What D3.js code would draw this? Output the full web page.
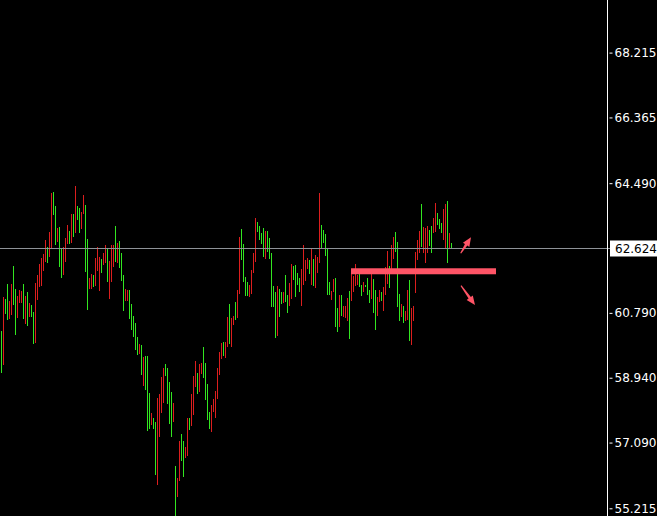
<!DOCTYPE html>
<html>
<head>
<meta charset="utf-8">
<script src="https://cdn.jsdelivr.net/npm/d3@7"></script>
<style>
html,body{margin:0;padding:0;background:#000;overflow:hidden;}
svg{display:block;}
</style>
</head>
<body>
<svg id="chart" width="657" height="516"></svg>
<script>
// ---- data ----
const highs = [
60.273,61.243,61.186,61.614,61.129,61.614,62.128,61.471,61.272,61.443,
61.414,61.614,61.272,61.386,61.072,61.015,60.815,61.643,61.871,62.185,
62.356,62.470,62.870,62.670,63.098,64.211,64.239,63.840,63.212,63.241,
62.613,62.670,62.926,63.298,63.126,63.611,63.611,64.410,63.840,63.783,
63.668,64.153,63.868,62.898,61.785,61.899,61.871,62.356,62.670,62.385,
62.327,62.499,62.727,62.641,62.270,62.727,62.727,63.269,62.784,62.841,
62.499,61.871,61.471,61.443,61.443,61.043,60.701,60.502,60.102,59.902,
59.874,59.531,59.560,59.560,58.504,57.934,57.791,57.677,58.362,58.476,
58.961,59.218,59.332,59.218,58.818,58.533,58.219,56.422,56.079,57.135,
57.334,57.135,56.964,57.791,57.791,58.476,58.990,59.417,59.075,59.332,
59.360,59.817,59.360,58.761,57.962,58.162,58.333,58.561,59.218,59.674,
59.931,59.959,59.959,60.673,61.043,60.644,60.701,61.101,61.443,62.955,
63.183,62.755,61.814,61.671,61.586,62.014,62.499,63.497,63.383,63.269,
63.069,63.212,63.126,63.126,62.926,62.499,61.557,61.386,61.557,61.471,
61.386,61.386,61.871,61.300,61.643,62.185,62.128,62.156,61.928,61.785,
62.042,62.727,62.299,62.356,62.299,62.641,62.327,62.442,62.385,64.211,
63.298,63.155,63.041,62.613,61.671,61.414,61.757,61.785,60.929,61.300,
61.300,60.986,60.986,61.215,61.414,61.985,61.842,62.185,61.871,61.899,
61.586,61.671,61.586,61.785,61.443,61.899,61.757,61.443,61.243,61.443,
61.386,61.529,62.099,62.556,62.128,62.727,62.955,63.098,62.812,61.329,
61.043,60.986,60.844,61.443,61.728,60.929,60.986,62.527,62.870,63.126,
63.897,63.241,63.212,63.269,63.155,63.269,63.497,63.925,63.640,63.469,
63.355,63.754,63.897,63.982,63.069,62.784
];
const lows = [
59.075,59.303,60.758,60.587,60.616,60.730,61.015,60.159,60.644,61.072,
61.072,60.616,60.473,60.416,60.673,60.673,59.902,59.931,61.158,61.529,
61.557,61.985,62.242,62.213,62.385,62.613,63.583,62.727,62.812,62.099,
61.785,61.871,62.242,62.755,62.755,62.784,62.955,63.069,63.440,63.069,
63.183,63.611,61.957,60.872,61.471,61.471,61.529,61.557,61.985,61.414,
61.928,62.156,62.213,61.671,61.186,61.671,62.099,62.242,62.213,62.071,
61.700,60.844,61.129,61.129,60.616,60.302,60.102,59.731,59.589,59.617,
59.018,58.704,58.590,57.420,57.477,57.591,57.477,56.165,55.879,57.249,
57.934,58.219,58.990,58.190,57.620,57.249,57.677,54.995,55.537,55.993,
56.564,56.108,56.650,56.707,57.449,57.563,57.877,58.675,58.476,58.533,
59.047,58.933,58.305,57.734,57.477,57.392,57.962,57.791,58.333,59.018,
59.474,59.560,59.503,59.817,59.902,59.817,60.444,60.587,60.644,61.329,
62.299,61.671,61.272,61.272,61.243,61.329,61.928,62.242,63.098,62.870,
62.755,62.385,62.327,62.527,62.327,60.958,60.958,60.073,60.131,60.673,
61.043,61.072,61.101,60.787,60.986,61.186,61.728,61.243,61.586,61.386,
60.986,61.586,61.700,62.042,61.899,61.586,61.557,61.500,61.928,62.213,
62.641,62.784,62.413,61.300,61.300,61.158,61.386,60.387,60.245,60.387,
60.701,60.673,60.644,60.559,60.045,61.129,61.386,61.557,61.586,61.529,
61.272,61.386,61.529,61.300,61.072,61.186,60.787,60.302,60.701,61.101,
61.129,60.844,61.300,61.614,61.500,62.042,62.327,62.527,60.958,60.559,
60.673,60.502,60.559,60.587,59.988,59.874,60.559,61.357,62.299,62.499,
62.670,62.499,62.213,62.499,62.698,62.499,63.069,63.098,63.298,63.183,
63.069,62.870,62.641,62.213,62.613,62.613
];
const up = [
1,0,1,1,0,0,1,1,0,0, 0,1,0,1,0,1,1,0,0,0, 0,0,0,1,0,0,1,1,0,1,
1,0,0,0,1,0,1,0,1,1, 0,0,1,1,0,0,1,0,0,0, 1,0,0,1,0,0,0,1,0,1,
1,1,0,0,1,1,1,1,1,0, 1,0,1,1,1,0,1,1,0,0, 0,0,1,1,1,1,0,1,0,0,
1,1,0,0,1,0,0,0,1,0, 0,1,1,1,1,0,0,0,0,0, 0,1,0,0,1,0,0,1,0,0,
1,1,1,1,0,0,0,0,1,1, 1,1,0,1,1,1,1,1,0,1, 1,0,1,1,0,0,1,1,1,1,
0,0,0,0,1,0,1,0,0,0, 1,1,1,1,1,0,0,1,1,0, 1,0,0,0,1,0,0,0,0,1,
1,0,1,1,1,0,1,1,0,0, 1,0,0,0,1,0,0,1,1,1, 0,1,0,0,1,0,0,0,0,0,
1,0,0,0,1,1,0,0,1,1, 1,0,0,1,0,1
];
const tickPrices = [68.215, 66.365, 64.490, 60.790, 58.940, 57.090, 55.215];
const currentPrice = 62.624;
const levelPrice = 61.977;          // thick red level line
const levelFromBar = 176, levelToBar = 248;
const arrowUp = [[230.85, 62.490], [236.0, 62.947]];
const arrowDown = [[231.0, 61.566], [238.0, 61.015]];

// ---- layout ----
const W = 657, H = 516, plotRight = 607;
const svg = d3.select("#chart");
svg.append("rect").attr("width", W).attr("height", H).attr("fill", "#000");

const x = d3.scaleLinear().domain([0.5, 304]).range([0, plotRight]);
const y = d3.scaleLinear().domain([55.215, 68.215]).range([508.3, 52.6]);

const bars = highs.map((h, i) => ({i: i + 1, h, l: lows[i], up: up[i]}));

const plot = svg.append("g");
plot.selectAll("rect.bar").data(bars).enter().append("rect")
  .attr("class", "bar")
  .attr("shape-rendering", "crispEdges")
  .attr("x", d => Math.round(x(d.i)))
  .attr("width", 1)
  .attr("y", d => Math.round(y(d.h)))
  .attr("height", d => Math.max(1, Math.round(y(d.l)) - Math.round(y(d.h))))
  .attr("fill", d => d.up ? "#32e620" : "#dc1e1e");

// current price line
const cy = Math.round(y(currentPrice)) + 0.5 - 1;
svg.append("line")
  .attr("x1", 0).attr("x2", 611).attr("y1", cy).attr("y2", cy)
  .attr("stroke", "#8e9298").attr("stroke-width", 1)
  .attr("shape-rendering", "crispEdges");

// level band
const ly = y(levelPrice);
svg.append("rect")
  .attr("x", x(levelFromBar)).attr("width", x(levelToBar) - x(levelFromBar) + 1)
  .attr("y", ly - 3).attr("height", 6)
  .attr("fill", "#ff5466");

// arrows
function drawArrow(pts) {
  const [p0, p1] = pts.map(p => [x(p[0]), y(p[1])]);
  const dx = p1[0] - p0[0], dy = p1[1] - p0[1];
  const len = Math.hypot(dx, dy), ux = dx / len, uy = dy / len;
  const nx = -uy, ny = ux;
  const headL = 9, headW = 3.8, shaftW = 1.4;
  const bx = p1[0] - ux * headL, by = p1[1] - uy * headL;
  const path = d3.path();
  path.moveTo(p0[0] + nx * shaftW * 0.4, p0[1] + ny * shaftW * 0.4);
  path.lineTo(bx + nx * shaftW, by + ny * shaftW);
  path.lineTo(bx + nx * headW, by + ny * headW);
  path.lineTo(p1[0], p1[1]);
  path.lineTo(bx - nx * headW, by - ny * headW);
  path.lineTo(bx - nx * shaftW, by - ny * shaftW);
  path.lineTo(p0[0] - nx * shaftW * 0.4, p0[1] - ny * shaftW * 0.4);
  path.closePath();
  svg.append("path").attr("d", path.toString()).attr("fill", "#ff5466");
}
drawArrow(arrowUp);
drawArrow(arrowDown);

// right price axis
const axis = d3.axisRight(y).tickValues(tickPrices).tickSize(3).tickPadding(4)
  .tickFormat(d3.format(".3f"));
const ag = svg.append("g").attr("transform", `translate(${plotRight + 1.5},0)`).call(axis);
ag.select(".domain").remove();
ag.selectAll(".tick line").attr("stroke", "#fff").attr("x1", 1).attr("x2", 4);
ag.selectAll(".tick text").attr("fill", "#fff").attr("x", 6)
  .attr("font-family", "DejaVu Sans, Tahoma, sans-serif").attr("font-size", 12);
svg.append("line").attr("x1", plotRight + 0.5).attr("x2", plotRight + 0.5)
  .attr("y1", 0).attr("y2", H).attr("stroke", "#fff").attr("stroke-width", 1)
  .attr("shape-rendering", "crispEdges");

// current price label
svg.append("rect").attr("x", 610).attr("y", cy - 8).attr("width", 47).attr("height", 16)
  .attr("fill", "#fff");
svg.append("text").attr("x", 615).attr("y", cy).attr("dy", "0.35em")
  .attr("fill", "#000").attr("font-family", "DejaVu Sans, Tahoma, sans-serif")
  .attr("font-size", 12).text(d3.format(".3f")(currentPrice));
</script>
</body>
</html>
